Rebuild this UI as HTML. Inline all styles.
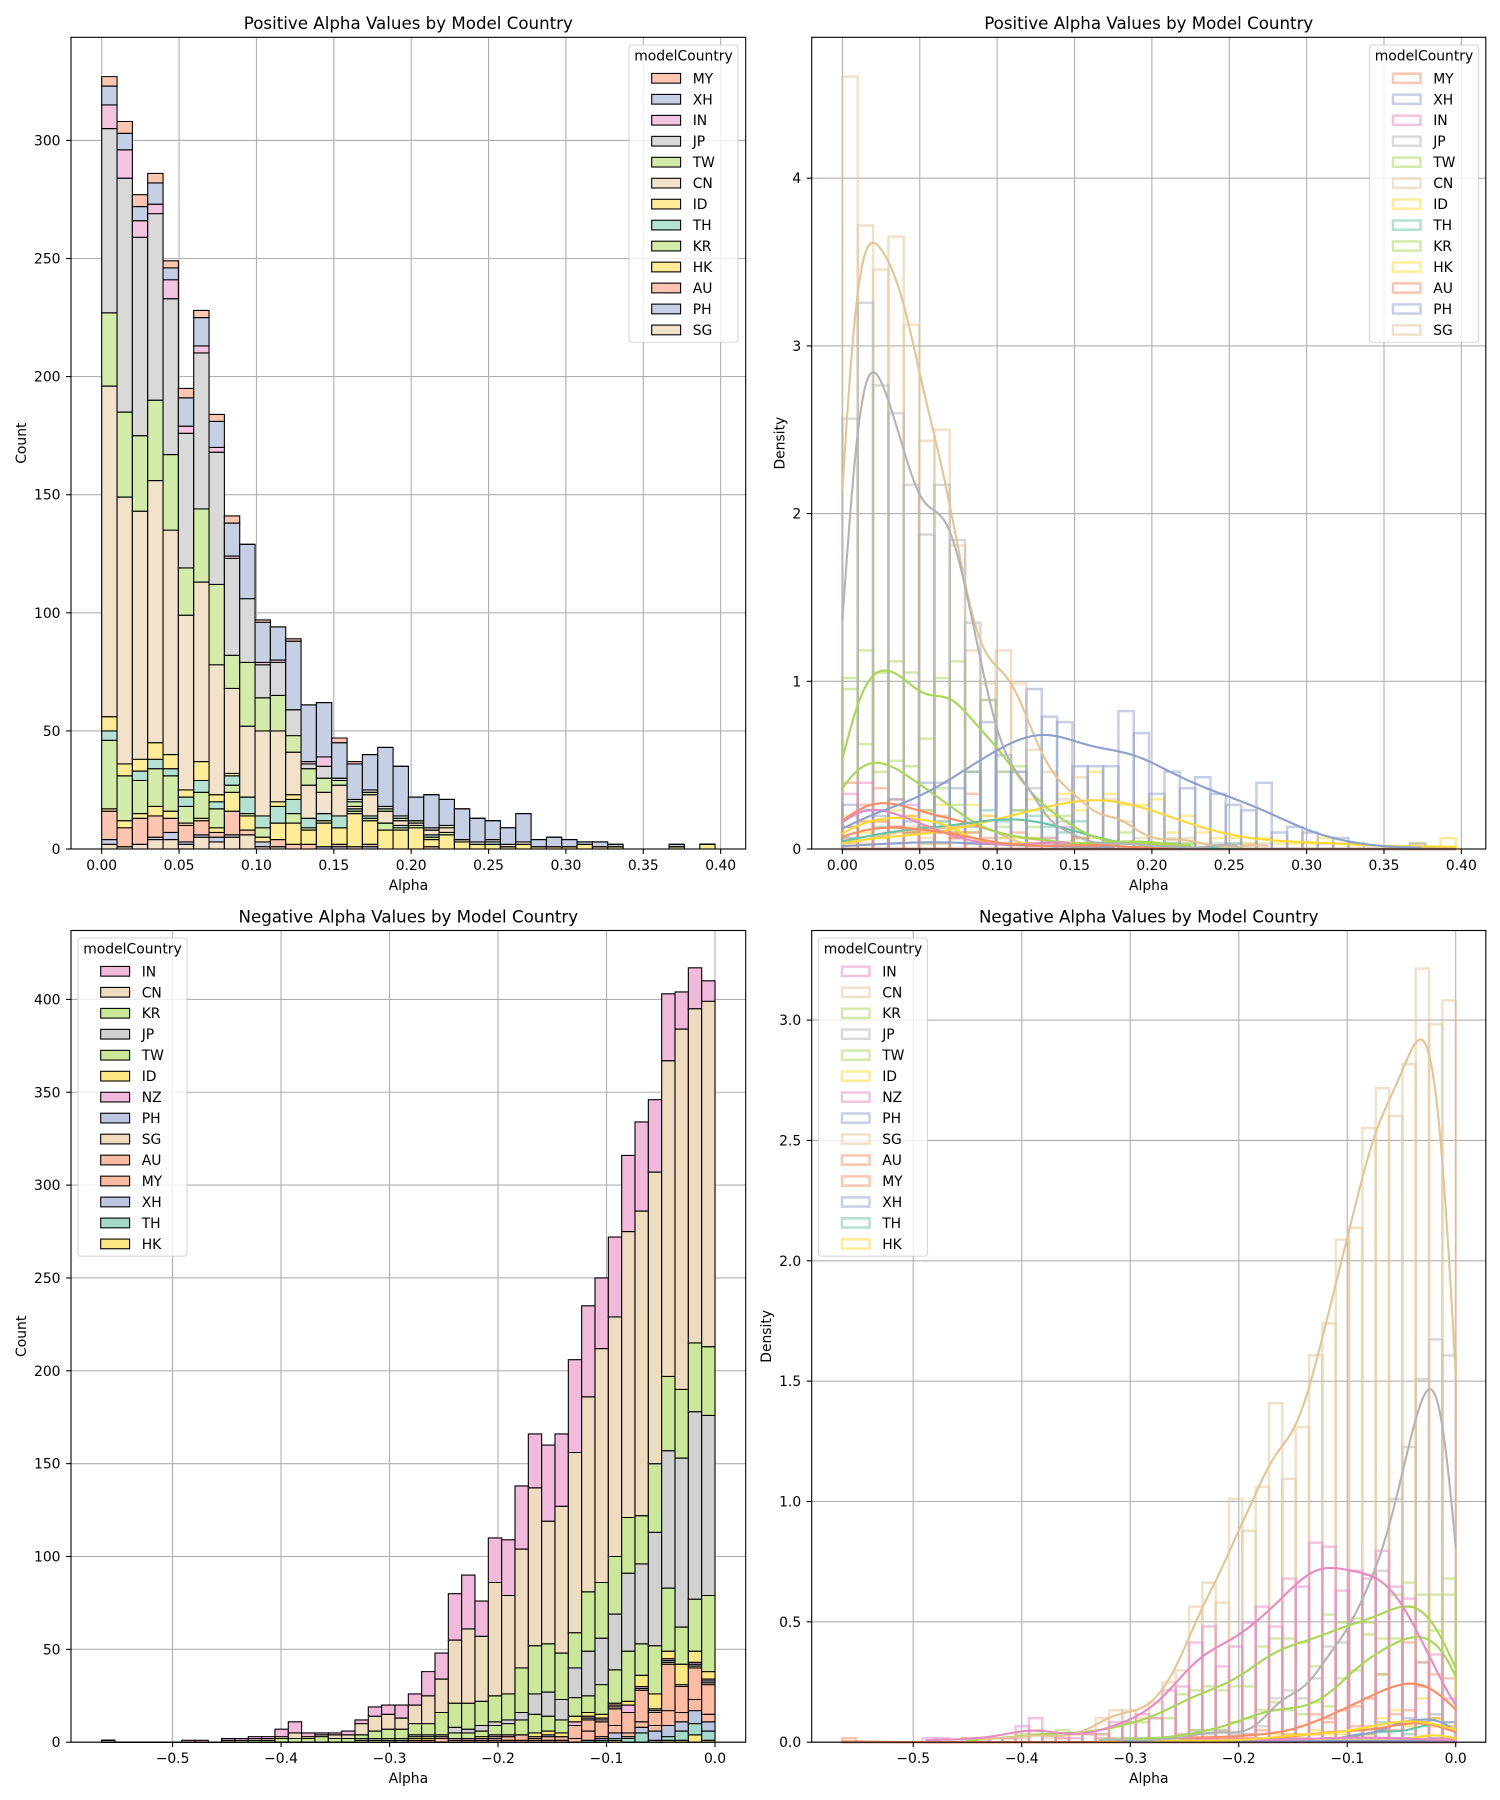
<!DOCTYPE html>
<html><head><meta charset="utf-8">
<style>
html,body{margin:0;padding:0;background:#fff;}
svg{display:block;}
svg text{font-family:"DejaVu Sans","Liberation Sans",sans-serif;fill:#000;}
</style></head><body>
<svg id="s" width="1500" height="1800" xmlns="http://www.w3.org/2000/svg" viewBox="0 0 1500 1800"></svg>
<script>
(function(){
var out=[];
function r2(v){return Math.round(v*100)/100;}
function hex2(h){return [parseInt(h.slice(1,3),16),parseInt(h.slice(3,5),16),parseInt(h.slice(5,7),16)];}
function mix(h,a){var c=hex2(h);return 'rgb('+c.map(function(v){return Math.round(v*a+255*(1-a));}).join(',')+')';}
var COL={be:'#e5c494',bl:'#8da0cb',or:'#fc8d62',ye:'#ffd92f',gr:'#a6d854',te:'#66c2a5',ga:'#b3b3b3',pi:'#e78ac3'};
function line(x1,y1,x2,y2,st,w){out.push('<line x1="'+r2(x1)+'" y1="'+r2(y1)+'" x2="'+r2(x2)+'" y2="'+r2(y2)+'" stroke="'+st+'" stroke-width="'+w+'"/>');}
function text(x,y,t,size,anchor,extra){out.push('<text x="'+r2(x)+'" y="'+r2(y)+'" font-size="'+size+'" text-anchor="'+(anchor||'start')+'" '+(extra||'')+'>'+t+'</text>');}

/* ---------- data ---------- */
var topOrder=['SG','PH','AU','HK','KR','TH','ID','CN','TW','JP','IN','XH','MY'];
var topCol={SG:'be',PH:'bl',AU:'or',HK:'ye',KR:'gr',TH:'te',ID:'ye',CN:'be',TW:'gr',JP:'ga',IN:'pi',XH:'bl',MY:'or'};
var topLegend=['MY','XH','IN','JP','TW','CN','ID','TH','KR','HK','AU','PH','SG'];
var Z13=[0,0,0,0,0,0,0,0,0,0,0,0,0];
var topCum=[
[2,3.8,15.8,16.9,46,49.8,55.9,195.7,227.2,305.2,315.3,323.3,327.1],
[0.5,1,8.7,11.8,30.6,31,36,148.9,184.8,283.9,296.1,303,308.1],
[1.5,2,13.4,14.8,28.8,32.9,38.1,142.8,175.3,258.9,266.2,272.1,277.1],
[3.7,4.8,13.7,17.5,33.7,38,44.8,156.4,190.2,269.1,272.9,282.2,286.1],
[3.8,6.6,13,15.9,30.9,33.7,39.5,134.8,166.5,233.1,241.2,245.8,249.2],
[2,2.8,9.8,10.9,17.5,21.9,25.3,99.1,118.6,176,178.8,190.7,195.1],
[5.2,5.9,12,13,24.2,28.8,36.6,112.9,144.1,209.9,212.7,224.9,228.1],
[2.8,4.5,6.6,8.7,16.7,20,22.9,77.6,112.1,168.1,170.2,181.2,184.2],
[4.8,5.9,16.1,23.9,27.1,30.6,31.6,68,82.1,122.9,123.8,137.7,140.8],
[5.9,5.9,8.1,13.7,14.7,22.2,22.2,52.1,79,105.7,105.7,129.1,129.1],
[1,2.5,3.4,4.8,8.7,13.7,13.7,50.4,63.8,78,79.3,96.2,96.9],
[0.5,1,3.8,11.1,11.1,17.5,20,50.2,64.8,79.3,79.5,93.7,93.7],
[0,0,1.7,10.9,14.7,20.8,22.6,40.9,47.9,58.9,58.9,87.8,88.8],
[0,0,1.7,8.1,8.7,13,13,27.1,33.6,35.5,36.9,60.8,60.8],
[0,0.5,1,10.9,12,14.7,14.7,24,29.9,35.1,38.8,61.7,61.7],
[0,0.5,1.7,8.7,8.7,13.7,13.7,26.5,28.5,29.9,29.9,44.8,46.7],
[0,0,0.5,14.5,15.5,16.5,17,18,19.5,20.5,20.9,36,36.5],
[0,0.5,1.7,11.8,12.5,13.7,13.7,22.5,24,25,25,39.6,39.6],
[0,0,0,8.1,10.9,10.9,10.9,16,16.8,17.5,17.5,42.5,42.5],
[0,0,0,8,9,10,10,12,13,14,14,35,35],
[0,0,0,9,9.5,10,10,11,11.5,12.3,12.3,21.9,21.9],
[0,0,0.5,3.9,4.5,5.5,5.5,7.5,8,8.7,8.7,22.9,22.9],
[0,0,0,5.9,6.5,7,7,9,9.5,9.8,9.8,20.8,20.8],
[0,0,0,3,3,3.2,3.2,3.5,3.7,3.9,3.9,16.8,16.8],
[0,0,0,1.5,1.5,1.7,1.7,2,2.2,2.5,2.5,13,13],
[0,0,0,2.3,2.3,2.5,2.5,3,3.2,3.5,3.5,11.8,11.8],
[0,0,0,1,1,1,1,1.5,1.5,1.5,1.5,8.5,8.5],
[0,0,0,2,2,2,2,2.5,2.5,2.5,2.5,14.5,14.5],
[0,0,0,1,1,1,1,1,1,1,1,4,4],
[0,0,0,1,1,1,1,1,1,1,1,5.1,5.1],
[0,0,0,0.5,0.5,0.5,0.5,1,1,1,1,3.7,3.7],
[0,0,0,1.5,1.5,1.5,1.5,1.5,1.5,1.5,1.5,2.5,2.5],
[0,0,0,0.5,0.5,0.5,0.5,0.5,0.5,0.5,0.5,3,3],
[0,0,0,0.5,0.5,0.5,0.5,0.5,0.5,0.5,0.5,2.3,2.3],
Z13,Z13,Z13,
[0,0,0,1,1,1,1,1,1,1,1,2.3,2.3],
Z13,
[0,0,0,2.3,2.3,2.3,2.3,2.3,2.3,2.3,2.3,2.3,2.3]
];

var botOrder=['HK','TH','XH','MY','AU','SG','PH','NZ','ID','TW','JP','KR','CN','IN'];
var botCol={HK:'ye',TH:'te',XH:'bl',MY:'or',AU:'or',SG:'be',PH:'bl',NZ:'pi',ID:'ye',TW:'gr',JP:'ga',KR:'gr',CN:'be',IN:'pi'};
var botLegend=['IN','CN','KR','JP','TW','ID','NZ','PH','SG','AU','MY','XH','TH','HK'];
function t3(kr,cn,inn){return [0,0,0,0,0,0,0,0,0,0,0,kr,cn,inn];}
var Z14=t3(0,0,0);
var botR=[
[1.2,5.7,11,15.2,30.8,32,33,34.4,38.3,79.3,175.6,213,399,410],
[4.4,10.2,17,22.5,40,40.7,41.5,42.5,49.1,76.9,178,215.3,395.1,416.7],
[1.2,5.7,11.4,15.9,30,30.5,31,31.3,42.1,62.2,153.4,190,383.6,403.7],
[1,3.3,9.2,17,41.6,42.5,43.5,44.6,48.7,83.4,157,196.8,366.7,402.8],
[0.3,0.8,5.7,9.2,16.4,17,17.5,18.2,26.3,51.8,112.8,149.8,307.4,345.7],
[0,5.1,8.4,11,28,28.7,29.3,29.9,35.8,53.2,96.3,122,286.4,334.2],
[0.3,1.5,3,4.8,16.4,16.4,16.4,19.5,21.8,49.1,90.9,120.9,274.6,316.3],
[0.5,1.8,4.8,9.2,18.2,18.7,19.2,20,20.9,39.2,69.4,99.9,229.1,272.4],
[0.3,1,2,3.3,11,11.5,12,12.8,15.2,31.2,55.9,85.9,212.1,249.9],
[0.3,0.5,0.8,5.7,11.9,12.3,12.8,13.5,15.9,25.4,49.1,81,186.1,235.4],
[0,0,0,2,9.2,9.2,9.2,11.4,13.7,24.2,40.3,59.2,155.9,206.2],
[0,0,0,1,2.5,2.7,2.9,3.1,5.1,11.9,23.1,47.8,126.8,166.3],
[0,0,0,0.5,2.5,3,3.5,4.3,6.2,13.7,26.7,53.2,118.7,160.4],
[0,0,0,0.5,2,2.5,3,3.3,5.1,15,26.3,52.1,137.2,166.3],
[0,0,0,0.5,4,4.2,4.3,4.4,4.4,12.3,15.9,40.1,104.4,138.3],
[0,0,0,0.5,2.5,3,3.3,3.6,3.9,10.2,12.3,26.3,79.3,109.2],
[0,0,0,0.5,2,2.5,3,3.5,4.4,9.2,11.4,25.4,85.9,110.3],
[0,0,0,0.3,0.8,1,1.3,1.8,2.5,5.7,9.2,21.8,56.8,76.2],
[0,0,0,0.3,0.8,1,1.3,1.6,2,5.1,6.9,20.9,61.3,90.4],
[0,0,0,0.3,0.8,1,1.3,1.6,2,5.1,8,20.9,55.4,80.2],
[0,0,0,0.3,2,2.2,2.4,2.6,3,3.8,4.4,15.9,33.5,47.8],
[0,0,0,0,0.5,0.7,0.9,1.2,1.5,2.5,4.4,10.2,25.4,38.3],
[0,0,0,0,0.5,0.7,0.9,1.2,1.5,2.5,4.4,10.2,19.5,26.3],
[0,0,0,0,0.3,0.4,0.5,0.7,1,1.5,2,6.9,12.8,20],
[0,0,0,0,0.3,0.4,0.5,0.7,1,1.5,2,6.9,15.1,19.8],
[0,0,0,0,0.3,0.3,0.3,0.3,0.5,1,1.5,6,14,19.2],
[0,0,0,0,0,0,0,0,0.5,1,1.5,4,9.9,12],
t3(2,4,6.2),t3(2,3.5,5.3),t3(2.5,4,5.3),t3(2,3,4.6),t3(2,4.6,10.5),t3(1.5,3,6.8),
t3(1,2,3.1),t3(1,1.5,3.1),t3(0,0.5,1.5),t3(0.5,1,1.5),
Z14,t3(0,0,1),t3(0,0,1),Z14,Z14,Z14,Z14,Z14,
[0,0,0,0,1.2,1.2,1.2,1.2,1.2,1.2,1.2,1.2,1.2,1.2]
];
var botCum=botR.slice().reverse();
function roundCum(cum){return cum.map(function(a){var p=0;return a.map(function(v){var r=Math.max(p,Math.round(v));p=r;return r;});});}
topCum=roundCum(topCum);botCum=roundCum(botCum);

function counts(cum,order){
  var c={};order.forEach(function(h){c[h]=[];});
  cum.forEach(function(arr){var prev=0;arr.forEach(function(v,k){c[order[k]].push(Math.max(0,v-prev));prev=Math.max(prev,v);});});
  return c;
}
var topCnt=counts(topCum,topOrder), botCnt=counts(botCum,botOrder);

/* ---------- geometry ---------- */
var TL={x0:71,x1:745.7,y0:37.3,y1:849,bx:101.7,bwp:15.335,ys:2.362};
var TR={x0:811.7,x1:1485.8,y0:37.3,y1:849,bx:842.4,bwp:15.335,ys:167.7};
var BL={x0:71,x1:745.7,y0:930.5,y1:1742.2,bx:101.6,bwp:13.335,ys:1.857};
var BR={x0:811.7,x1:1485.8,y0:930.5,y1:1742.2,bx:842.3,bwp:13.335,ys:240.7};
var kT=0.0329,kB=0.01657;

function topX(P){var a=[];for(var i=0;i<=8;i++){var v=i*0.05;a.push({px:P.bx+v*1547.4,label:v.toFixed(2)});}return a;}
function botX(P){var z=P.bx+46*P.bwp;var a=[];for(var i=5;i>=0;i--){var v=-i*0.1;a.push({px:z+v*1084.9,label:(i===0?'0.0':'\u2212'+(i/10).toFixed(1))});}return a;}
function yT(P,vals,fmt){return vals.map(function(v){return {py:P.y1-v*P.ys,label:fmt(v)};});}

function grid(P,xt,yt){
  xt.forEach(function(t){line(t.px,P.y0,t.px,P.y1,'#b0b0b0',1.1);});
  yt.forEach(function(t){if(t.py>P.y0+0.5)line(P.x0,t.py,P.x1,t.py,'#b0b0b0',1.1);});
}
function frame(P,xt,yt){
  out.push('<rect x="'+P.x0+'" y="'+P.y0+'" width="'+r2(P.x1-P.x0)+'" height="'+r2(P.y1-P.y0)+'" fill="none" stroke="#000" stroke-width="1.1"/>');
  xt.forEach(function(t){line(t.px,P.y1,t.px,P.y1+4.9,'#000',1.1);text(t.px,P.y1+21,t.label,13.9,'middle');});
  yt.forEach(function(t){line(P.x0-4.9,t.py,P.x0,t.py,'#000',1.1);text(P.x0-10.5,t.py+5,t.label,13.9,'end');});
}
function stacked(P,cum,order,cols,alpha){
  cum.forEach(function(arr,i){
    var x=P.bx+i*P.bwp,prev=0;
    arr.forEach(function(v,k){
      var top=Math.max(prev,v);
      var yt=P.y1-top*P.ys,yb=P.y1-prev*P.ys;
      out.push('<path d="M'+r2(x)+' '+r2(yb)+'H'+r2(x+P.bwp)+'V'+r2(yt)+'H'+r2(x)+'Z" fill="'+mix(COL[cols[order[k]]],alpha)+'" stroke="#000" stroke-width="1.1"/>');
      prev=top;
    });
  });
}
function outlines(P,cnt,legend,cols,kd){
  legend.slice().reverse().forEach(function(h){
    var c=COL[cols[h]];
    cnt[h].forEach(function(v,i){
      var x=P.bx+i*P.bwp,yt=P.y1-v*kd*P.ys;
      out.push('<path d="M'+r2(x)+' '+r2(P.y1)+'V'+r2(yt)+'H'+r2(x+P.bwp)+'V'+r2(P.y1)+'Z" fill="none" stroke="'+c+'" stroke-opacity="0.5" stroke-width="2.5"/>');
    });
  });
}
function kdeLines(P,cnt,legend,cols,kd,x0d,bwd,toPx){
  legend.slice().reverse().forEach(function(h){
    var c=cnt[h],n=0,m=0,i;
    for(i=0;i<c.length;i++){var xc=x0d+(i+0.5)*bwd;n+=c[i];m+=c[i]*xc;}
    if(n<1.5)return;
    m/=n;var vr=0;
    for(i=0;i<c.length;i++){var xc2=x0d+(i+0.5)*bwd;vr+=c[i]*(xc2-m)*(xc2-m);}
    vr=vr/n+bwd*bwd/12;
    var bw=Math.sqrt(vr)*Math.pow(n,-0.2);
    var i0=0;while(i0<c.length-1&&c[i0]<0.25)i0++;
    var i1=c.length-1;while(i1>0&&c[i1]<0.25)i1--;
    var xmin=x0d+i0*bwd+(i0===0?0:0.3*bwd),xmax=x0d+(i1+1)*bwd-(i1===c.length-1?0:0.3*bwd);
    var pts=[];
    for(var j=0;j<=200;j++){
      var x=xmin+(xmax-xmin)*j/200,s=0;
      for(i=0;i<c.length;i++){if(c[i]>0){var z=(x-(x0d+(i+0.5)*bwd))/bw;s+=c[i]*Math.exp(-0.5*z*z);}}
      var d=kd*bwd*s/(bw*Math.sqrt(2*Math.PI));
      pts.push(r2(toPx(x))+','+r2(P.y1-d*P.ys));
    }
    out.push('<polyline points="'+pts.join(' ')+'" fill="none" stroke="'+COL[cols[h]]+'" stroke-width="2.1" stroke-linejoin="round" stroke-linecap="round"/>');
  });
}
function legend(bx,by,items,cols,filled,alpha){
  var h=33.3+(items.length-1)*20.97+12.3;
  out.push('<rect x="'+bx+'" y="'+by+'" width="109" height="'+r2(h)+'" rx="2.8" fill="#fff" fill-opacity="0.8" stroke="#cccccc" stroke-opacity="0.8" stroke-width="1.1"/>');
  text(bx+54.5,by+15.7,'modelCountry',13.9,'middle');
  items.forEach(function(it,k){
    var cy=by+33.3+k*20.97;
    if(filled)out.push('<rect x="'+r2(bx+22.7)+'" y="'+r2(cy-4.85)+'" width="28.9" height="9.7" fill="'+mix(COL[cols[it]],alpha)+'" stroke="#000" stroke-width="1.1"/>');
    else out.push('<rect x="'+r2(bx+23.5)+'" y="'+r2(cy-4.6)+'" width="27.5" height="9.2" fill="none" stroke="'+COL[cols[it]]+'" stroke-opacity="0.5" stroke-width="2.5"/>');
    text(bx+63.7,cy+5,it,13.9,'start');
  });
}
function labels(P,title,ylab,ylx){
  var cx=(P.x0+P.x1)/2;
  text(cx,P.y0-8.2,title,16.67,'middle');
  text(cx,P.y1+41,'Alpha',13.9,'middle');
  out.push('<text transform="translate('+r2(ylx)+','+r2((P.y0+P.y1)/2)+') rotate(-90)" font-size="13.9" text-anchor="middle">'+ylab+'</text>');
}
function range(a,b,s){var r=[];for(var v=a;v<=b+1e-9;v+=s)r.push(Math.round(v*1000)/1000);return r;}

/* ---------- Top-left ---------- */
var xt=topX(TL),yt=yT(TL,range(0,300,50),function(v){return String(v);});
grid(TL,xt,yt);
stacked(TL,topCum,topOrder,topCol,0.5);
frame(TL,xt,yt);
legend(629,45,topLegend,topCol,true,0.5);
labels(TL,'Positive Alpha Values by Model Country','Count',26);

/* ---------- Top-right ---------- */
xt=topX(TR);yt=yT(TR,[0,1,2,3,4],function(v){return String(v);});
grid(TR,xt,yt);
outlines(TR,topCnt,topLegend,topCol,kT);
kdeLines(TR,topCnt,topLegend,topCol,kT,0,0.00991,function(a){return TR.bx+a*1547.4;});
frame(TR,xt,yt);
legend(1369.5,45,topLegend,topCol,false);
labels(TR,'Positive Alpha Values by Model Country','Density',784.3);

/* ---------- Bottom-left ---------- */
xt=botX(BL);yt=yT(BL,range(0,400,50),function(v){return String(v);});
grid(BL,xt,yt);
stacked(BL,botCum,botOrder,botCol,0.6);
frame(BL,xt,yt);
legend(78,938,botLegend,botCol,true,0.6);
labels(BL,'Negative Alpha Values by Model Country','Count',26);

/* ---------- Bottom-right ---------- */
xt=botX(BR);yt=yT(BR,range(0,3,0.5),function(v){return v.toFixed(1);});
grid(BR,xt,yt);
outlines(BR,botCnt,botLegend,botCol,kB);
kdeLines(BR,botCnt,botLegend,botCol,kB,-0.5654,0.012292,function(a){return 1455.7+a*1084.9;});
frame(BR,xt,yt);
legend(818.5,938,botLegend,botCol,false);
labels(BR,'Negative Alpha Values by Model Country','Density',771);

document.getElementById('s').innerHTML=out.join('');
})();
</script>
</body></html>
